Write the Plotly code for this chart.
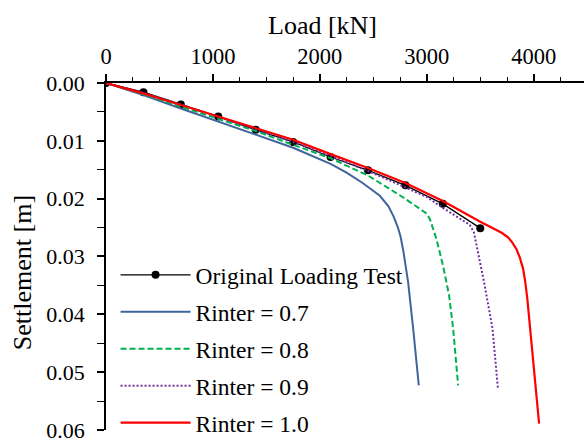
import plotly.graph_objects as go

# Original loading test
test_load = [0, 350, 700, 1050, 1400, 1750, 2100, 2450, 2800, 3150, 3500]
test_settl = [0, 0.0016, 0.0037, 0.0058, 0.0081, 0.0102, 0.0128, 0.0151, 0.0177, 0.0209, 0.0251]

# Rinter = 0.7
r07_load = [0, 350, 700, 1050, 1400, 1750, 2100, 2250, 2400, 2561, 2640, 2690, 2730, 2755, 2780, 2825, 2872, 2925]
r07_settl = [0, 0.0021, 0.0044, 0.0067, 0.0090, 0.0112, 0.0140, 0.0155, 0.0173, 0.0195, 0.0213, 0.0231, 0.0250, 0.0266, 0.0290, 0.0344, 0.0424, 0.0523]

# Rinter = 0.8
r08_load = [0, 350, 700, 1050, 1400, 1750, 2100, 2450, 2780, 3000, 3030, 3090, 3152, 3208, 3246, 3293]
r08_settl = [0, 0.0019, 0.0041, 0.0062, 0.0083, 0.0107, 0.0130, 0.0160, 0.0198, 0.0226, 0.0236, 0.0270, 0.0316, 0.0367, 0.0424, 0.0523]

# Rinter = 0.9
r09_load = [0, 350, 700, 1050, 1400, 1750, 2100, 2450, 2800, 3000, 3150, 3300, 3400, 3440, 3480, 3535, 3614, 3666]
r09_settl = [0, 0.0017, 0.0037, 0.0058, 0.0080, 0.0102, 0.0126, 0.0152, 0.0180, 0.0197, 0.0216, 0.0233, 0.0245, 0.0258, 0.0293, 0.0344, 0.0424, 0.0530]

# Rinter = 1.0
r10_load = [0, 350, 700, 1050, 1400, 1750, 2100, 2450, 2800, 3150, 3500, 3700, 3760, 3800, 3840, 3870, 3900, 3920, 3940, 3960, 3980, 4010, 4050]
r10_settl = [0, 0.0018, 0.0038, 0.0058, 0.0077, 0.0098, 0.0123, 0.0147, 0.0173, 0.0204, 0.0240, 0.0259, 0.0267, 0.0276, 0.0288, 0.0302, 0.0321, 0.0343, 0.0373, 0.0410, 0.0453, 0.0510, 0.0589]

FONT = "Liberation Serif"

fig = go.Figure()
fig.add_trace(go.Scatter(x=test_load, y=test_settl, mode="lines+markers", name="Original Loading Test",
                         line=dict(color="black", width=1.3), marker=dict(color="black", size=8),
                         legendgroup="a"))
fig.add_trace(go.Scatter(x=r07_load, y=r07_settl, mode="lines", name="Rinter = 0.7",
                         line=dict(color="#3F659C", width=2), legendgroup="b"))
fig.add_trace(go.Scatter(x=r08_load, y=r08_settl, mode="lines", name="Rinter = 0.8",
                         line=dict(color="#00B050", width=2, dash="6px,3px"), legendgroup="c"))
fig.add_trace(go.Scatter(x=r09_load, y=r09_settl, mode="lines", name="Rinter = 0.9",
                         line=dict(color="#7030A0", width=2, dash="2px,2px"), legendgroup="d"))
fig.add_trace(go.Scatter(x=r10_load, y=r10_settl, mode="lines", name="Rinter = 1.0",
                         line=dict(color="#FF0000", width=2.2), legendgroup="e"))

fig.update_layout(
    width=584, height=443,
    margin=dict(l=106, r=0, t=83, b=13, autoexpand=False),
    paper_bgcolor="white", plot_bgcolor="white",
    font=dict(family=FONT, color="black", size=22),
    showlegend=True,
    legend=dict(x=0.02, y=0.510, xanchor="left", yanchor="top",
                font=dict(family=FONT, size=23.5, color="black"),
                bgcolor="rgba(0,0,0,0)", tracegroupgap=3.4, itemwidth=70),
    xaxis=dict(range=[0, 4470], side="top", showline=True, linecolor="black", linewidth=1.5,
               showgrid=False, zeroline=False, ticks="outside", ticklen=7, tickwidth=1.5,
               tickcolor="black", dtick=1000, tick0=0, ticklabelstandoff=1, automargin=False,
               ticklabeloverflow="allow",
               tickfont=dict(family=FONT, size=22.5),
               minor=dict(dtick=250, ticks="outside", ticklen=4, tickwidth=1.2, tickcolor="black")),
    yaxis=dict(range=[0.06001, 0], showline=True, linecolor="black", linewidth=1.5,
               showgrid=False, zeroline=False, ticks="outside", ticklen=7, tickwidth=1.5,
               tickcolor="black", dtick=0.01, tick0=0, tickformat=".2f", ticklabelstandoff=8,
               automargin=False, ticklabeloverflow="allow",
               tickfont=dict(family=FONT, size=22),
               minor=dict(dtick=0.005, ticks="outside", ticklen=7, tickwidth=1.2, tickcolor="black")),
    annotations=[
        dict(text="Load [kN]", xref="paper", yref="paper", x=0.452, y=1.167,
             xanchor="center", yanchor="middle", showarrow=False,
             font=dict(family=FONT, size=26, color="black")),
        dict(text="Settlement [m]", xref="paper", yref="paper", x=-0.1757, y=0.452,
             xanchor="center", yanchor="middle", showarrow=False, textangle=-90,
             font=dict(family=FONT, size=26, color="black")),
    ],
)

fig.write_html("out.html")
